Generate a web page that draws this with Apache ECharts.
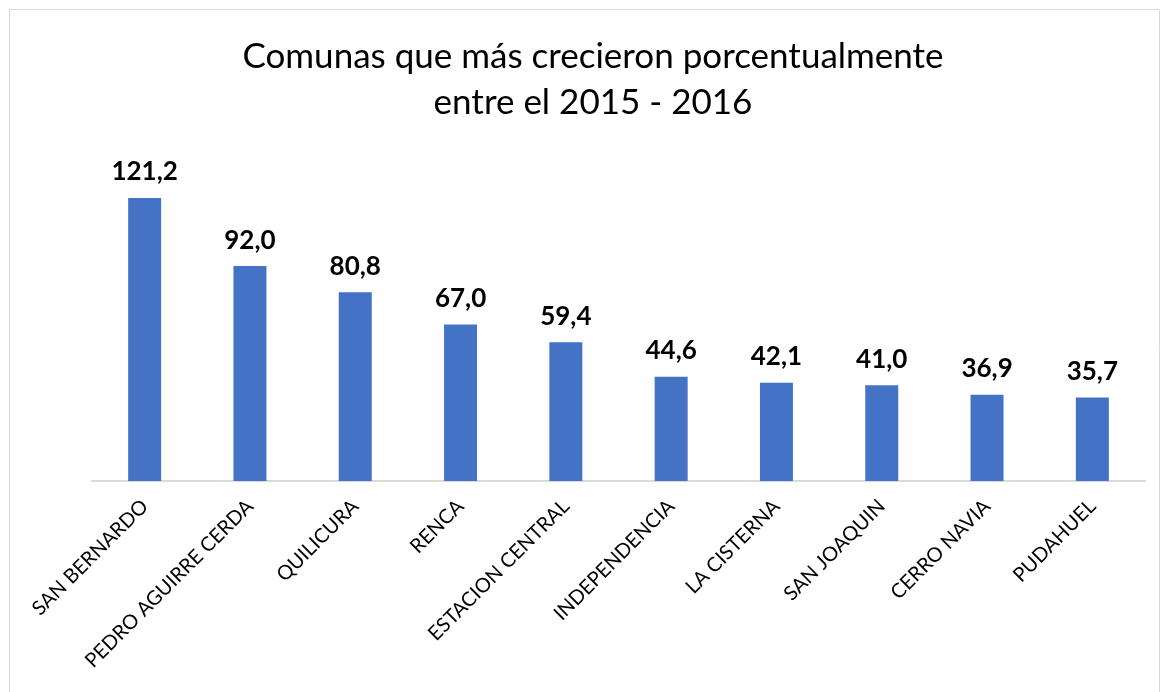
<!DOCTYPE html>
<html>
<head>
<meta charset="utf-8">
<script src="https://cdn.jsdelivr.net/npm/echarts@6/dist/echarts.min.js"></script>
<style>
  html, body { margin: 0; padding: 0; background: #fff; }
  #chart { width: 1167px; height: 692px; }
</style>
</head>
<body>
<div id="chart"></div>
<script>
// comunas y crecimiento porcentual 2015-2016
const comunas = [
  "SAN BERNARDO", "PEDRO AGUIRRE CERDA", "QUILICURA", "RENCA", "ESTACION CENTRAL",
  "INDEPENDENCIA", "LA CISTERNA", "SAN JOAQUIN", "CERRO NAVIA", "PUDAHUEL"
];
const crecimiento = [121.2, 92.0, 80.8, 67.0, 59.4, 44.6, 42.1, 41.0, 36.9, 35.7];

var myChart = echarts.init(document.getElementById("chart"));

var option = {
  animation: false,
  title: {
    text: "Comunas que más crecieron porcentualmente\nentre el 2015 - 2016",
    left: 588,
    top: 29,
    textAlign: "center",
    textStyle: {
      fontFamily: "Lato",
      fontWeight: "normal",
      fontSize: 35,
      lineHeight: 46,
      color: "#000",
    },
  },
  graphic: [
    {
      type: "rect",
      shape: { x: 9.5, y: 9.5, width: 1150, height: 700 },
      style: { fill: "none", stroke: "#d9d9d9", lineWidth: 1 },
      silent: true,
    },
  ],
  grid: {
    left: 92,
    right: 22,
    top: 154,
    bottom: 211,
  },
  xAxis: {
    type: "category",
    data: comunas,
    axisLine: { lineStyle: { color: "#d9d9d9", width: 2 } },
    axisTick: { show: false },
    axisLabel: {
      interval: 0,
      rotate: 45,
      margin: 22,
      color: "#000",
      fontFamily: "Lato",
      fontSize: 20,
    },
  },
  yAxis: {
    type: "value",
    min: 0,
    max: 140,
    show: false,
    splitLine: { show: false },
  },
  series: [
    {
      type: "bar",
      data: crecimiento,
      barWidth: 33,
      itemStyle: { color: "#4472c4" },
      label: {
        show: true,
        position: "top",
        distance: 13,
        color: "#000",
        fontFamily: "Lato",
        fontWeight: "bold",
        fontSize: 26,
        formatter: function (p) {
          return p.value.toFixed(1).replace(".", ",");
        },
      },
    },
  ],
};

myChart.setOption(option);
</script>
</body>
</html>
